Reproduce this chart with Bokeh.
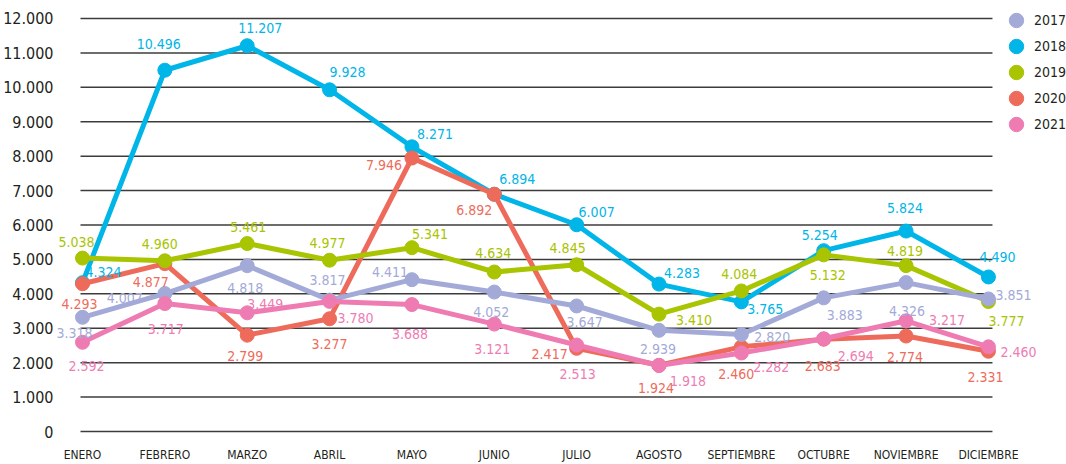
from bokeh.plotting import figure
from bokeh.models import (ColumnDataSource, LabelSet, Legend, LegendItem,
                          FixedTicker, Range1d)
from bokeh.core.properties import value
from bokeh.embed import file_html
from bokeh.resources import INLINE

# ---------------- data ----------------
months = ["ENERO", "FEBRERO", "MARZO", "ABRIL", "MAYO", "JUNIO", "JULIO",
          "AGOSTO", "SEPTIEMBRE", "OCTUBRE", "NOVIEMBRE", "DICIEMBRE"]
years = ["2017", "2018", "2019", "2020", "2021"]
y2017 = [3318, 4007, 4818, 3817, 4411, 4052, 3647, 2939, 2820, 3883, 4326, 3851]
y2018 = [4324, 10496, 11207, 9928, 8271, 6894, 6007, 4283, 3765, 5254, 5824, 4490]
y2019 = [5038, 4960, 5461, 4977, 5341, 4634, 4845, 3410, 4084, 5132, 4819, 3777]
y2020 = [4293, 4877, 2799, 3277, 7946, 6892, 2417, 1924, 2460, 2683, 2774, 2331]
y2021 = [2592, 3717, 3449, 3780, 3688, 3121, 2513, 1918, 2282, 2694, 3217, 2460]
y_ticks = [0, 1000, 2000, 3000, 4000, 5000, 6000, 7000, 8000, 9000, 10000, 11000, 12000]
y_tick_labels = ["0", "1.000", "2.000", "3.000", "4.000", "5.000", "6.000",
                 "7.000", "8.000", "9.000", "10.000", "11.000", "12.000"]

# ---------------- styles / label placement (screen px: dx right, dy down) ----------------
colors = {"2017": "#A3AAD8", "2018": "#00B5E8", "2019": "#A9C400",
          "2020": "#EE6B5B", "2021": "#EE7CB3"}
label_dx = {
    "2017": [-8, -40, -2, -2, -22, -3, 8, -1, 31, 21, 1, 25],
    "2018": [21, -6, 13, 18, 23, 23, 20, 23, 24, -4, -1, 9],
    "2019": [-6, -5, 1, -2, 18, -1, -9, 35, -2, 4, -1, 18],
    "2020": [-3, -14, -2, 0, -28, -20, -27, -3, -5, -1, -1, -3],
    "2021": [4, 1, 18, 26, -2, -2, 1, 29, 30, 32, 41, 30],
}
label_dy = {
    "2017": [16, 4, 22, -20, -8, 20, 16, 19, 3, 17, 28, -4],
    "2018": [-11, -26, -18, -18, -13, -15, -13, -11, 7, -16, -23, -20],
    "2019": [-16, -17, -17, -17, -14, -19, -17, 6, -17, 20, -15, 19],
    "2020": [20, 18, 21, 25, 7, 16, 6, 23, 27, 27, 21, 26],
    "2021": [24, 25, -9, 17, 29, 25, 29, 16, 14, 17, -1, 5],
}
FONT = "DejaVu Sans Condensed"
TEXT = "#231F20"

series = {"2017": y2017, "2018": y2018, "2019": y2019, "2020": y2020, "2021": y2021}
draw_order = ["2018", "2020", "2019", "2017", "2021"]

# layout: figure at page (0,0); frame from x 56..1066, y 10..436
FRAME_BOTTOM, FRAME_LEFT = 436, 56
XS, XE = -0.3157, 11.948
YS, YE = -86.7, 12231.3
GX0, GX1 = -0.0243, 11.049

p = figure(width=1066, height=464, x_range=Range1d(XS, XE), y_range=Range1d(YS, YE),
           output_backend="svg", toolbar_location=None,
           min_border_left=FRAME_LEFT, min_border_right=0, min_border_top=10,
           min_border_bottom=28)
p.outline_line_color = None
p.xgrid.visible = False
p.ygrid.visible = False

# horizontal grid lines
p.segment(x0=GX0, x1=GX1, y0=y_ticks, y1=y_ticks, line_color="#3c3c3c", line_width=1.5)

# axes
p.yaxis.ticker = FixedTicker(ticks=y_ticks)
p.yaxis.major_label_overrides = {t: l for t, l in zip(y_ticks, y_tick_labels)}
p.xaxis.ticker = FixedTicker(ticks=list(range(len(months))))
p.xaxis.major_label_overrides = {i: m for i, m in enumerate(months)}
for ax in (p.xaxis[0], p.yaxis[0]):
    ax.axis_line_color = None
    ax.major_tick_line_color = None
    ax.minor_tick_line_color = None
    ax.major_tick_in = 0
    ax.major_tick_out = 0
    ax.major_label_text_font = FONT
    ax.major_label_text_color = TEXT
p.yaxis.major_label_text_font_size = "16px"
p.yaxis.major_label_standoff = 3
p.xaxis.major_label_text_font_size = "12px"
p.xaxis.major_label_standoff = 13

x = list(range(len(months)))
scatters = {}
for yr in draw_order:
    vals = series[yr]
    src = ColumnDataSource(dict(
        x=x, y=vals,
        txt=[f"{v:,}".replace(",", ".") for v in vals],
        dx=label_dx[yr], dy=[-d for d in label_dy[yr]],
    ))
    p.line("x", "y", source=src, line_color=colors[yr], line_width=5,
           line_join="round", line_cap="round")
    scatters[yr] = p.scatter("x", "y", source=src, size=14, marker="circle",
                             fill_color=colors[yr], line_color=colors[yr])
    labels = LabelSet(x="x", y="y", text="txt", source=src, x_offset="dx", y_offset="dy",
                      text_align="center", text_baseline="middle",
                      text_font=value(FONT), text_font_size="14px",
                      text_color=colors[yr])
    p.add_layout(labels)

# legend: one single-item legend per year, stacked 26px apart
for i, yr in enumerate(years):
    centre_y = 22 + 26 * i
    lg = Legend(items=[LegendItem(label=yr, renderers=[scatters[yr]])],
                location=(998 - FRAME_LEFT, FRAME_BOTTOM - (centre_y + 18)),
                glyph_width=36, glyph_height=36, spacing=0, padding=0, margin=0,
                label_standoff=0, border_line_color=None, background_fill_alpha=0,
                label_text_font=FONT, label_text_font_size="14px",
                label_text_color=TEXT, label_text_baseline="middle")
    p.add_layout(lg)

open("out.html", "w").write(file_html(p, INLINE))
